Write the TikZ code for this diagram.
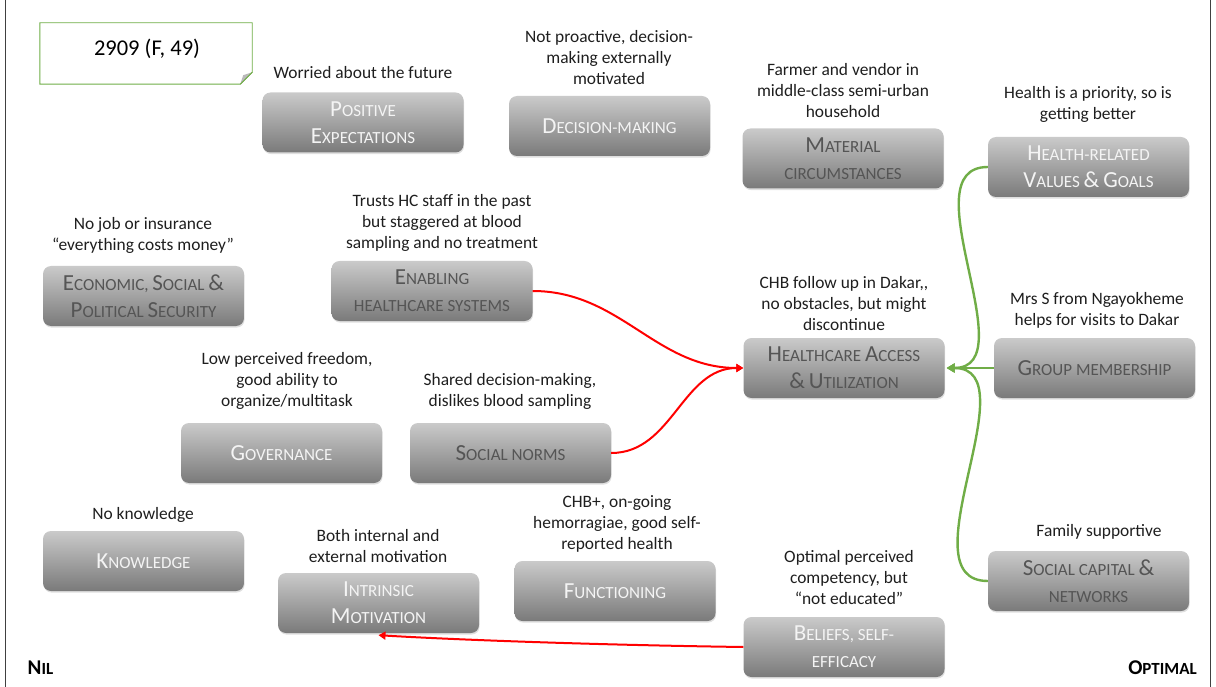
\documentclass[tikz,border=0pt]{standalone}
\usepackage{fontspec}
\setmainfont{Carlito}
\usetikzlibrary{arrows.meta,shadows}

\definecolor{boxtop}{HTML}{CACACA}
\definecolor{boxbot}{HTML}{7A7A7A}
\definecolor{boxlight}{HTML}{F4F4F4}
\definecolor{boxdark}{HTML}{555555}
\definecolor{notetext}{HTML}{1E1E1E}
\definecolor{linkred}{HTML}{FF0000}
\definecolor{linkgreen}{HTML}{70AD47}
\definecolor{framegray}{HTML}{404040}

% initial capital of a small-caps word
\newcommand\bc[1]{{\fontsize{23}{27}\selectfont #1}}

\tikzset{
  factor/.style={rectangle, rounded corners=8pt, minimum width=201pt,
    minimum height=60pt, inner sep=0pt, align=center,
    top color=boxtop, bottom color=boxbot,
    font=\fontsize{17}{27}\selectfont,
    drop shadow={shadow xshift=0.6pt, shadow yshift=-1.6pt, opacity=0.25}},
  light/.style={factor, text=boxlight},
  dark/.style={factor, text=boxdark},
  note/.style={align=center, inner sep=0pt, text=notetext,
    font=\fontsize{17.4}{21}\selectfont},
  redlink/.style={draw=linkred, line width=2pt,
    -{Triangle[width=8pt,length=7pt]}},
  greenlink/.style={draw=linkgreen, line width=2.4pt,
    -{Triangle[width=9pt,length=8pt]}},
  scaleend/.style={font=\bfseries\fontsize{17}{20}\selectfont, text=black, inner sep=0pt},
}

\begin{document}
\begin{tikzpicture}[x=1pt, y=-1pt]
\useasboundingbox (0,0) rectangle (1216,687);

% frame lines at both sides
\draw[framegray, line width=0.9pt] (5,0) -- (5,687);
\draw[framegray, line width=0.9pt] (1210,0) -- (1210,687);

% case identifier with folded corner
\node[minimum width=212pt, minimum height=61pt, inner sep=0pt] (id) at (146,53.5) {};
\draw[linkgreen, line width=0.9pt, fill=white]
  (id.north west) -- (id.north east) -- ([yshift=12pt]id.south east)
  -- ([xshift=-12pt]id.south east) -- (id.south west) -- cycle;
\node[font=\fontsize{22.5}{24}\selectfont, inner sep=0pt] (idtext) at (147,49) {2909 (F, 49)};
\fill[gray!55] ([yshift=12pt]id.south east) -- ([xshift=-12pt]id.south east)
  -- ([xshift=-9pt,yshift=9pt]id.south east) -- cycle;
\draw[linkgreen, line width=0.9pt] ([yshift=12pt]id.south east) -- ([xshift=-12pt]id.south east);

% factor boxes
\node[light] (pos) at (363,122.5) {\bc{P}OSITIVE\\\bc{E}XPECTATIONS};
\node[light] (dec) at (609.5,126) {\bc{D}ECISION-MAKING};
\node[dark]  (mat) at (843,158.5) {\bc{M}ATERIAL\\CIRCUMSTANCES};
\node[light] (hvg) at (1088.5,167) {\bc{H}EALTH-RELATED\\\bc{V}ALUES \bc{\&} \bc{G}OALS};
\node[dark]  (eco) at (143.5,296) {\bc{E}CONOMIC, \bc{S}OCIAL \bc{\&}\\\bc{P}OLITICAL \bc{S}ECURITY};
\node[dark]  (ena) at (432,291) {\bc{E}NABLING\\HEALTHCARE SYSTEMS};
\node[dark]  (hcu) at (844,368) {\bc{H}EALTHCARE \bc{A}CCESS\\\bc{\&} \bc{U}TILIZATION};
\node[dark]  (grp) at (1094.5,368) {\bc{G}ROUP MEMBERSHIP};
\node[light] (gov) at (281.5,453) {\bc{G}OVERNANCE};
\node[dark]  (soc) at (510.5,453) {\bc{S}OCIAL NORMS};
\node[light] (kno) at (143.5,561) {\bc{K}NOWLEDGE};
\node[light] (int) at (378.5,603) {\bc{I}NTRINSIC\\\bc{M}OTIVATION};
\node[light] (fun) at (615,591) {\bc{F}UNCTIONING};
\node[light] (bel) at (844,647) {\bc{B}ELIEFS, SELF-\\EFFICACY};
\node[dark]  (scn) at (1088.5,581) {\bc{S}OCIAL CAPITAL \bc{\&}\\NETWORKS};

% observations above each factor
\node[note] (npos) at (363,73) {Worried about the future};
\node[note] (ndec) at (609,58) {Not proactive, decision-\\making externally\\motivated};
\node[note] (nmat) at (843,91) {Farmer and vendor in\\middle-class semi-urban\\household};
\node[note] (nhvg) at (1088,104.5) {Health is a priority, so is\\getting better};
\node[note] (neco) at (143,235.5) {No job or insurance\\``everything costs money''};
\node[note] (nena) at (442,222.5) {Trusts HC staff in the past\\but staggered at blood\\sampling and no treatment};
\node[note] (nhcu) at (844,304) {CHB follow up in Dakar,{},\\no obstacles, but might\\discontinue};
\node[note] (ngrp) at (1097,310.5) {Mrs S from Ngayokheme\\helps for visits to Dakar};
\node[note] (ngov) at (287,380.5) {Low perceived freedom,\\good ability to\\organize/multitask};
\node[note] (nsoc) at (510,391.5) {Shared decision-making,\\dislikes blood sampling};
\node[note] (nkno) at (143,515) {No knowledge};
\node[note] (nint) at (378,546.5) {Both internal and\\external motivation};
\node[note] (nfun) at (617,524) {CHB+, on-going\\hemorragiae, good self-\\reported health};
\node[note] (nbel) at (849,578) {Optimal perceived\\competency, but\\``not educated''};
\node[note] (nscn) at (1099,532) {Family supportive};

% ends of the scale
\node[scaleend] (nil) at (40.5,668) {{\fontsize{21}{20}\selectfont N}IL};
\node[scaleend] (opt) at (1162.5,668) {{\fontsize{21}{20}\selectfont O}PTIMAL};

% links
\draw[redlink] (ena.east) to[out=0, in=180] (hcu.west);
\draw[redlink] (soc.east) to[out=0, in=180] (hcu.west);
\draw[redlink] (bel.west) .. controls (600,645) and (460,640) .. ([yshift=-2pt]int.south);
\draw[greenlink] (hvg.west) to[out=180, in=0] ([xshift=2pt]hcu.east);
\draw[greenlink] (scn.west) to[out=180, in=0] ([xshift=2pt]hcu.east);
\draw[greenlink] (grp.west) -- ([xshift=2pt]hcu.east);
\end{tikzpicture}
\end{document}
